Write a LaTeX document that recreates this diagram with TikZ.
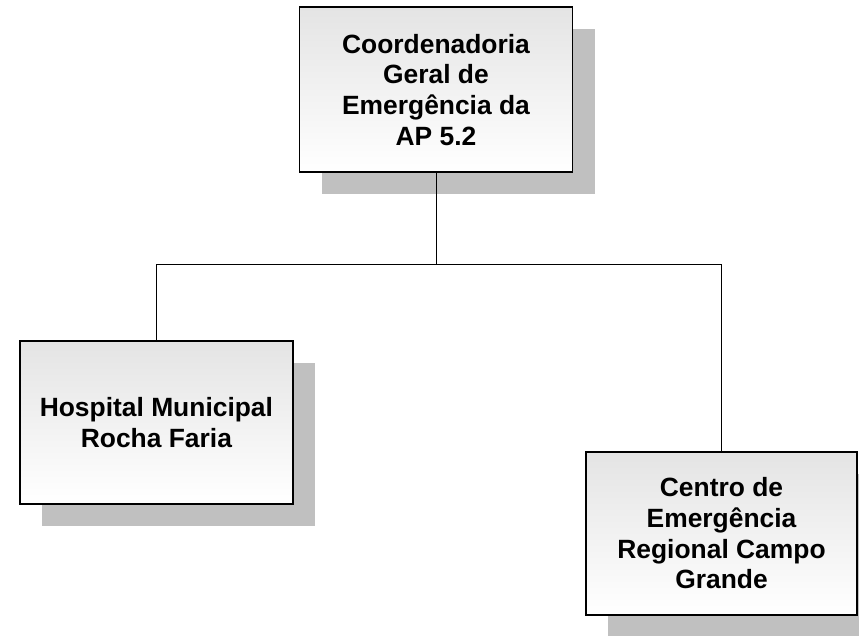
\documentclass[tikz,border=0pt]{standalone}
\usepackage{fontspec}
\setmainfont{Liberation Sans}
\usetikzlibrary{shadows}
\definecolor{shadowgray}{HTML}{C0C0C0}
\definecolor{topgray}{HTML}{E4E4E4}
\tikzset{
  orgbox/.style={rectangle, draw=black, line width=1.5pt, top color=topgray, bottom color=white,
    align=center, inner sep=0pt,
    font=\bfseries\fontsize{26.4}{30.7}\selectfont,
    general shadow={fill=shadowgray, shadow xshift=22pt, shadow yshift=-22pt}},
  link/.style={draw=black, line width=1pt}
}
\begin{document}
\begin{tikzpicture}[x=1pt,y=-1pt]
\useasboundingbox (0,0) rectangle (859,636);
\clip (0,0) rectangle (859,636);
\node[orgbox, minimum width=273pt, minimum height=165pt] (top) at (436,89.7)
  {Coordenadoria\\Geral de\\Emergência da\\AP 5.2};
\node[orgbox, minimum width=273pt, minimum height=163pt] (left) at (156.4,422.5)
  {Hospital Municipal\\Rocha Faria};
\node[orgbox, minimum width=271pt, minimum height=163pt] (right) at (721.5,533.5)
  {Centro de\\Emergência\\Regional Campo\\Grande};
\coordinate (j) at (436,265);
\draw[link] (top.south) -- (j);
\draw[link] (left.north) -- (left.north |- j) -- (right.north |- j) -- (right.north);
\end{tikzpicture}
\end{document}
